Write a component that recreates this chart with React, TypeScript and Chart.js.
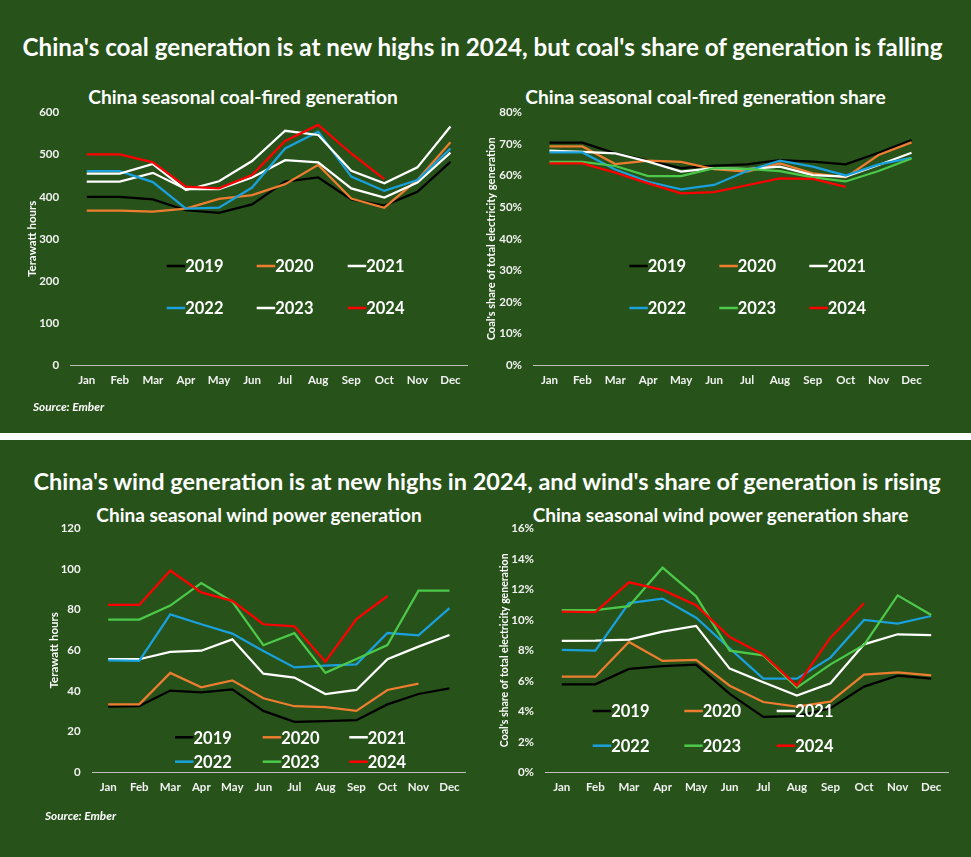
import React, { useEffect, useRef } from 'react';
import { Chart, registerables } from 'chart.js';

Chart.register(...registerables);
Chart.defaults.font.family = 'Lato, "Open Sans", sans-serif';

// ---------- data ----------
const MONTHS = ['Jan', 'Feb', 'Mar', 'Apr', 'May', 'Jun', 'Jul', 'Aug', 'Sep', 'Oct', 'Nov', 'Dec'];
const YEARS = ['2019', '2020', '2021', '2022', '2023', '2024'];

// China seasonal coal-fired generation (TWh)
const COAL_TWH_2019 = [400, 400, 394, 368, 362, 382, 436, 446, 394, 379, 412, 483];
const COAL_TWH_2020 = [367, 367, 365, 372, 395, 404, 430, 476, 396, 374, 440, 530];
const COAL_TWH_2021 = [436, 436, 457, 418, 418, 446, 487, 482, 420, 398, 434, 505];
const COAL_TWH_2022 = [461, 461, 435, 372, 374, 422, 515, 555, 448, 414, 440, 515];
const COAL_TWH_2023 = [455, 455, 478, 416, 437, 485, 557, 547, 462, 432, 470, 567];
const COAL_TWH_2024 = [501, 501, 482, 424, 420, 452, 533, 571, 503, 442, null, null];

// China seasonal coal-fired generation share (%)
const COAL_SHARE_2019 = [70.5, 70.5, 67.1, 64.8, 62.4, 63.2, 63.6, 65.0, 64.5, 63.6, 67.3, 71.3];
const COAL_SHARE_2020 = [69.3, 69.3, 63.7, 64.8, 64.4, 62.1, 61.3, 63.9, 60.8, 59.5, 66.6, 70.6];
const COAL_SHARE_2021 = [68.0, 67.6, 67.1, 64.5, 61.3, 62.4, 62.1, 62.9, 60.2, 59.7, 63.4, 67.3];
const COAL_SHARE_2022 = [67.4, 67.4, 62.0, 58.1, 55.7, 57.1, 61.5, 64.8, 62.9, 60.1, 63.6, 65.7];
const COAL_SHARE_2023 = [64.4, 64.4, 63.1, 59.9, 59.9, 62.4, 62.2, 61.5, 59.5, 58.2, 61.5, 65.5];
const COAL_SHARE_2024 = [63.9, 63.9, 61.0, 57.6, 54.4, 54.8, 57.0, 59.2, 59.0, 56.5, null, null];

// China seasonal wind power generation (TWh)
const WIND_TWH_2019 = [32.3, 32.6, 40.2, 39.3, 40.8, 30.2, 24.8, 25.2, 25.6, 33.4, 38.5, 41.3];
const WIND_TWH_2020 = [33.4, 33.4, 48.9, 41.8, 45.2, 36.4, 32.5, 32.0, 30.2, 40.5, 43.6, null];
const WIND_TWH_2021 = [55.6, 55.6, 59.2, 59.8, 65.4, 48.5, 46.6, 38.5, 40.5, 55.6, 61.8, 67.5];
const WIND_TWH_2022 = [55.1, 54.8, 77.7, 72.8, 68.2, 59.7, 51.6, 52.5, 53.1, 68.5, 67.4, 80.7];
const WIND_TWH_2023 = [75.1, 75.1, 82.0, 93.1, 83.9, 62.5, 68.4, 48.9, 55.7, 62.6, 89.3, 89.3];
const WIND_TWH_2024 = [82.3, 82.3, 99.2, 88.5, 84.3, 72.8, 71.8, 54.4, 75.4, 86.7, null, null];

// China seasonal wind power generation share (%)
const WIND_SHARE_2019 = [5.77, 5.77, 6.78, 6.97, 7.06, 5.14, 3.63, 3.69, 4.2, 5.62, 6.34, 6.14];
const WIND_SHARE_2020 = [6.27, 6.27, 8.55, 7.3, 7.37, 5.68, 4.61, 4.31, 4.63, 6.4, 6.56, 6.36];
const WIND_SHARE_2021 = [8.61, 8.63, 8.7, 9.22, 9.6, 6.8, 5.9, 5.03, 5.84, 8.39, 9.05, 9.0];
const WIND_SHARE_2022 = [8.02, 7.98, 11.1, 11.39, 10.14, 8.13, 6.14, 6.14, 7.52, 9.99, 9.75, 10.25];
const WIND_SHARE_2023 = [10.64, 10.64, 10.89, 13.42, 11.54, 7.98, 7.67, 5.55, 7.08, 8.35, 11.6, 10.32];
const WIND_SHARE_2024 = [10.54, 10.51, 12.46, 11.96, 10.95, 8.87, 7.72, 5.68, 8.83, 11.08, null, null];

// ---------- styles ----------
const BG = '#27521A';
const TICK_COLOR = '#f2f2f2';
const FONT = 'Lato, "Open Sans", sans-serif';
const COLORS_A = ['#000000', '#ED7D31', '#FFFFFF', '#1AA0DC', '#FFFFFF', '#FF0000'];
const COLORS_B = ['#000000', '#ED7D31', '#FFFFFF', '#1AA0DC', '#4CC94A', '#FF0000'];

type PanelCfg = {
  left: number; top: number; width: number; height: number;
  padTop: number; padRight: number; yWidth: number; xHeight: number;
  yMin: number; yMax: number; yStep: number; pct: boolean;
  axisTitle: string; axisTitleSize: number; titlePad: number;
  tickPad: number; xTickPad: number;
  series: (number | null)[][]; colors: string[];
  legendX: number[]; legendY: number[];
};

const PANELS: PanelCfg[] = [
  {
    left: 0, top: 100, width: 480, height: 300,
    padTop: 12.7, padRight: 13, yWidth: 70.2, xHeight: 35,
    yMin: 0, yMax: 600, yStep: 100, pct: false,
    axisTitle: 'Terawatt hours', axisTitleSize: 11.5, titlePad: 25,
    tickPad: 11, xTickPad: 8,
    series: [COAL_TWH_2019, COAL_TWH_2020, COAL_TWH_2021, COAL_TWH_2022, COAL_TWH_2023, COAL_TWH_2024],
    colors: COLORS_A,
    legendX: [166.7, 256.7, 347.7], legendY: [166, 208],
  },
  {
    left: 480, top: 100, width: 491, height: 300,
    padTop: 12.7, padRight: 43, yWidth: 53, xHeight: 35,
    yMin: 0, yMax: 80, yStep: 10, pct: true,
    axisTitle: "Coal's share of total electricity generation", axisTitleSize: 11, titlePad: 5,
    tickPad: 11, xTickPad: 8,
    series: [COAL_SHARE_2019, COAL_SHARE_2020, COAL_SHARE_2021, COAL_SHARE_2022, COAL_SHARE_2023, COAL_SHARE_2024],
    colors: COLORS_B,
    legendX: [149.3, 239.3, 329.3], legendY: [166, 208],
  },
  {
    left: 0, top: 520, width: 480, height: 290,
    padTop: 8.3, padRight: 15, yWidth: 92.7, xHeight: 37.7,
    yMin: 0, yMax: 120, yStep: 20, pct: false,
    axisTitle: 'Terawatt hours', axisTitleSize: 11.5, titlePad: 47,
    tickPad: 12, xTickPad: 8,
    series: [WIND_TWH_2019, WIND_TWH_2020, WIND_TWH_2021, WIND_TWH_2022, WIND_TWH_2023, WIND_TWH_2024],
    colors: COLORS_B,
    legendX: [175, 262.7, 349.3], legendY: [217.3, 241.7],
  },
  {
    left: 480, top: 520, width: 491, height: 290,
    padTop: 8.3, padRight: 23, yWidth: 65, xHeight: 37.7,
    yMin: 0, yMax: 16, yStep: 2, pct: true,
    axisTitle: "Coal's share of total electricity generation", axisTitleSize: 10.5, titlePad: 18.5,
    tickPad: 11, xTickPad: 8,
    series: [WIND_SHARE_2019, WIND_SHARE_2020, WIND_SHARE_2021, WIND_SHARE_2022, WIND_SHARE_2023, WIND_SHARE_2024],
    colors: COLORS_B,
    legendX: [112.7, 204.3, 296.7], legendY: [191, 225.7],
  },
];

const LEGEND_LEN = 18.5;

function ChartPanel({ p }: { p: PanelCfg }) {
  const ref = useRef<HTMLCanvasElement>(null);
  useEffect(() => {
    if (!ref.current) return;
    const legendPlugin = {
      id: 'gridLegend',
      afterDraw(chart: any) {
        const ctx = chart.ctx;
        ctx.save();
        chart.data.datasets.forEach((ds: any, i: number) => {
          const x = p.legendX[i % 3];
          const y = p.legendY[Math.floor(i / 3)];
          ctx.strokeStyle = ds.borderColor;
          ctx.lineWidth = 2.5;
          ctx.beginPath();
          ctx.moveTo(x, y);
          ctx.lineTo(x + LEGEND_LEN, y);
          ctx.stroke();
          ctx.fillStyle = '#ffffff';
          ctx.font = `bold 16.5px ${FONT}`;
          ctx.textAlign = 'left';
          ctx.textBaseline = 'middle';
          ctx.fillText(ds.label, x + LEGEND_LEN, y + 1);
        });
        ctx.restore();
      },
    };
    const xTickFont = { family: FONT, weight: 'bold' as const, size: 11.5 };
    const yTickFont = { family: FONT, weight: 'bold' as const, size: 11.5 };
    const chart = new Chart(ref.current, {
      type: 'line',
      data: {
        labels: MONTHS,
        datasets: p.series.map((s, i) => ({
          label: YEARS[i],
          data: s,
          borderColor: p.colors[i],
          backgroundColor: p.colors[i],
          borderWidth: 2.25,
          pointRadius: 0,
          pointHoverRadius: 0,
          tension: 0,
          fill: false,
          order: -i,
        })),
      },
      options: {
        animation: false,
        responsive: false,
        maintainAspectRatio: false,
        devicePixelRatio: 1,
        layout: { padding: { left: 0, top: p.padTop, right: p.padRight, bottom: 0 } },
        plugins: {
          legend: { display: false },
          tooltip: { enabled: false },
          title: { display: false },
        },
        scales: {
          x: {
            offset: true,
            grid: { display: false, drawTicks: false },
            border: { display: true, color: '#bfbfbf', width: 1 },
            ticks: { color: TICK_COLOR, font: xTickFont, padding: p.xTickPad, maxRotation: 0, autoSkip: false },
            afterFit: (s: any) => {
              s.height = p.xHeight;
              s.paddingLeft = 0;
              s.paddingRight = 0;
            },
          },
          y: {
            min: p.yMin,
            max: p.yMax,
            grid: { display: false, drawTicks: false },
            border: { display: false },
            ticks: {
              stepSize: p.yStep,
              color: TICK_COLOR,
              font: yTickFont,
              padding: p.tickPad,
              callback: (v: any) => (p.pct ? `${v}%` : `${v}`),
            },
            title: {
              display: true,
              text: p.axisTitle,
              color: '#ffffff',
              font: { family: FONT, weight: 'bold', size: p.axisTitleSize },
              padding: { top: p.titlePad, bottom: 0 },
            },
            afterFit: (s: any) => {
              s.width = p.yWidth;
              s.paddingTop = 0;
              s.paddingBottom = 0;
            },
          },
        },
      },
      plugins: [legendPlugin],
    });
    return () => chart.destroy();
  }, [p]);
  return (
    <canvas
      ref={ref}
      width={p.width}
      height={p.height}
      style={{ position: 'absolute', left: p.left, top: p.top, width: p.width, height: p.height }}
    />
  );
}

function Text({ x, y, size, children, italic, align }: any) {
  return (
    <div
      style={{
        position: 'absolute',
        left: x,
        top: y,
        transform: align === 'left' ? 'translate(0,-50%)' : 'translate(-50%,-50%)',
        whiteSpace: 'nowrap',
        color: '#ffffff',
        fontFamily: FONT,
        fontWeight: 700,
        fontStyle: italic ? 'italic' : 'normal',
        fontSize: size,
        lineHeight: 1,
      }}
    >
      {children}
    </div>
  );
}

export default function App() {
  return (
    <div
      style={{
        position: 'absolute',
        left: 0,
        top: 0,
        width: 971,
        height: 857,
        background: BG,
        overflow: 'hidden',
      }}
    >
      <div style={{ position: 'absolute', left: 0, top: 433, width: 971, height: 7, background: '#ffffff' }} />
      <Text x={482.5} y={47} size={24.2}>China's coal generation is at new highs in 2024, but coal's share of generation is falling</Text>
      <Text x={243} y={96.5} size={19.2}>China seasonal coal-fired generation</Text>
      <Text x={705.5} y={96.5} size={19.2}>China seasonal coal-fired generation share</Text>
      <Text x={487} y={481.5} size={23.5}>China's wind generation is at new highs in 2024, and wind's share of generation is rising</Text>
      <Text x={259} y={514} size={19}>China seasonal wind power generation</Text>
      <Text x={720.5} y={514} size={19}>China seasonal wind power generation share</Text>
      {PANELS.map((p, i) => (
        <ChartPanel key={i} p={p} />
      ))}
      <Text x={33} y={407} size={11.8} italic align="left">Source: Ember</Text>
      <Text x={45} y={815.5} size={11.8} italic align="left">Source: Ember</Text>
    </div>
  );
}
